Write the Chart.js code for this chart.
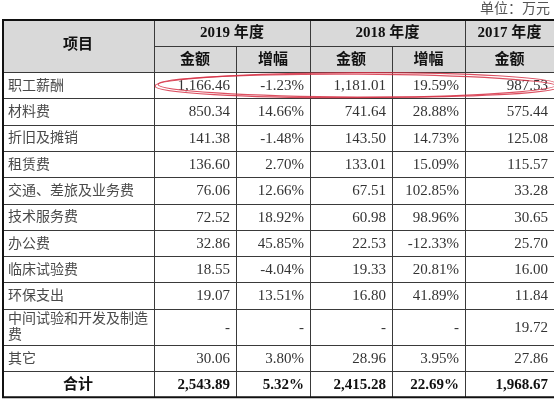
<!DOCTYPE html>
<html>
<head>
<meta charset="utf-8">
<script src="https://cdn.jsdelivr.net/npm/chart.js@4"></script>
<style>
  html, body { margin: 0; padding: 0; background: #fff; }
  #wrap { width: 554px; height: 400px; position: relative; }
</style>
</head>
<body>
<div id="wrap"><canvas id="costTable"></canvas></div>
<script>
// values (unit: 万元 / %)
const items = ['职工薪酬', '材料费', '折旧及摊销', '租赁费', '交通、差旅及业务费', '技术服务费',
  '办公费', '临床试验费', '环保支出', '中间试验和开发及制造费', '其它'];
const years = ['2019 年度', '2018 年度', '2017 年度'];
const amount2019 = [1166.46, 850.34, 141.38, 136.60, 76.06, 72.52, 32.86, 18.55, 19.07, null, 30.06];
const growth2019 = [-1.23, 14.66, -1.48, 2.70, 12.66, 18.92, 45.85, -4.04, 13.51, null, 3.80];
const amount2018 = [1181.01, 741.64, 143.50, 133.01, 67.51, 60.98, 22.53, 19.33, 16.80, null, 28.96];
const growth2018 = [19.59, 28.88, 14.73, 15.09, 102.85, 98.96, -12.33, 20.81, 41.89, null, 3.95];
const amount2017 = [987.53, 575.44, 125.08, 115.57, 33.28, 30.65, 25.70, 16.00, 11.84, 19.72, 27.86];
const totals = [2543.89, 5.32, 2415.28, 22.69, 1968.67];
const highlightRow = 0;

// layout (in the 554 x 400 value space of the scales)
const colEdges = [2, 154, 236, 310, 392, 465, 554];
const headTop = 19, headMid = 46, headBottom = 72;
const rowH = 26.3, lineH = 16;
const FONT = '"Liberation Serif", "Noto Sans CJK SC", serif';

function money(v) {
  if (v === null) return '-';
  const parts = v.toFixed(2).split('.');
  return parts[0].replace(/\B(?=(\d{3})+(?!\d))/g, ',') + '.' + parts[1];
}
function pct(v) {
  return v === null ? '-' : v.toFixed(2) + '%';
}

function wrap(ctx, text, maxW) {
  const lines = [];
  let cur = '';
  for (const ch of text) {
    if (ctx.measureText(cur + ch).width > maxW && cur) {
      lines.push(cur);
      cur = ch;
    } else {
      cur += ch;
    }
  }
  lines.push(cur);
  return lines;
}

const tablePlugin = {
  id: 'tablePlugin',
  afterDraw(chart) {
    const ctx = chart.ctx;
    const xs = chart.scales.x, ys = chart.scales.y;
    const X = v => xs.getPixelForValue(v);
    const Y = v => ys.getPixelForValue(v);

    // body rows: work out heights from wrapped labels
    ctx.font = '14px ' + FONT;
    const labelW = colEdges[1] - colEdges[0] - 12;
    const labelLines = items.map(t => wrap(ctx, t, labelW));
    const rowEdges = [headBottom];
    labelLines.forEach(l => {
      const h = l.length > 1 ? 18 + lineH * (l.length - 1) + 2 : rowH;
      rowEdges.push(rowEdges[rowEdges.length - 1] + h);
    });
    rowEdges.push(rowEdges[rowEdges.length - 1] + rowH);
    const tableBottom = rowEdges[rowEdges.length - 1];

    ctx.save();
    // header background
    ctx.fillStyle = '#d9d9d9';
    ctx.fillRect(X(colEdges[0]), Y(headTop), X(colEdges[6]) - X(colEdges[0]), Y(headBottom) - Y(headTop));

    // unit label
    ctx.fillStyle = '#555';
    ctx.font = '14px ' + FONT;
    ctx.textAlign = 'right';
    ctx.textBaseline = 'middle';
    ctx.fillText('单位：万元', X(550), Y(9));

    // header texts
    ctx.fillStyle = '#111';
    ctx.font = 'bold 15px ' + FONT;
    ctx.textAlign = 'center';
    const cx = (a, b) => (X(colEdges[a]) + X(colEdges[b])) / 2;
    ctx.fillText('项目', cx(0, 1), (Y(headTop) + Y(headBottom)) / 2);
    const rowA = (Y(headTop) + Y(headMid)) / 2 + 1;
    const rowB = (Y(headMid) + Y(headBottom)) / 2 + 1;
    ctx.fillText(years[0], cx(1, 3), rowA);
    ctx.fillText(years[1], cx(3, 5), rowA);
    ctx.fillText(years[2], cx(5, 6), rowA);
    ['金额', '增幅', '金额', '增幅', '金额'].forEach((t, i) => {
      ctx.fillText(t, cx(i + 1, i + 2), rowB);
    });

    // body
    const cols = [amount2019.map(money), growth2019.map(pct), amount2018.map(money),
      growth2018.map(pct), amount2017.map(money)];
    items.forEach((name, r) => {
      const top = Y(rowEdges[r]), bot = Y(rowEdges[r + 1]);
      const mid = (top + bot) / 2 + 1;
      ctx.font = '14px ' + FONT;
      ctx.fillStyle = '#4a4a4a';
      ctx.textAlign = 'left';
      const lines = labelLines[r];
      const first = mid - (lines.length - 1) * lineH / 2;
      lines.forEach((l, k) => ctx.fillText(l, X(colEdges[0]) + 6, first + k * lineH));
      ctx.font = '15px ' + FONT;
      ctx.fillStyle = '#333';
      ctx.textAlign = 'right';
      cols.forEach((c, i) => ctx.fillText(c[r], X(colEdges[i + 2]) - 6, mid));
    });

    // total row
    const tTop = Y(rowEdges[items.length]), tBot = Y(tableBottom);
    const tMid = (tTop + tBot) / 2 + 1;
    ctx.fillStyle = '#111';
    ctx.font = 'bold 15px ' + FONT;
    ctx.textAlign = 'center';
    ctx.fillText('合计', cx(0, 1), tMid);
    ctx.textAlign = 'right';
    totals.forEach((v, i) => {
      ctx.fillText(i % 2 ? pct(v) : money(v), X(colEdges[i + 2]) - 6, tMid);
    });

    // grid lines
    ctx.strokeStyle = '#3a3a3a';
    ctx.lineWidth = 1;
    const hline = (y, a, b) => {
      ctx.beginPath();
      ctx.moveTo(X(colEdges[a]), Math.round(Y(y)) + 0.5);
      ctx.lineTo(X(colEdges[b]), Math.round(Y(y)) + 0.5);
      ctx.stroke();
    };
    const vline = (i, y0, y1) => {
      ctx.beginPath();
      ctx.moveTo(Math.round(X(colEdges[i])) + 0.5, Y(y0));
      ctx.lineTo(Math.round(X(colEdges[i])) + 0.5, Y(y1));
      ctx.stroke();
    };
    hline(headMid, 1, 6);
    hline(headBottom, 0, 6);
    rowEdges.slice(1, -1).forEach(y => hline(y, 0, 6));
    vline(1, headTop, tableBottom);
    vline(2, headMid, tableBottom);
    vline(3, headTop, tableBottom);
    vline(4, headMid, tableBottom);
    vline(5, headTop, tableBottom);

    // outer frame
    ctx.strokeStyle = '#111';
    ctx.lineWidth = 2;
    ctx.beginPath();
    ctx.moveTo(X(colEdges[6]), Y(headTop) + 1);
    ctx.lineTo(X(colEdges[0]) + 1, Y(headTop) + 1);
    ctx.lineTo(X(colEdges[0]) + 1, Y(tableBottom));
    ctx.lineTo(X(colEdges[6]), Y(tableBottom));
    ctx.stroke();

    // red ellipse around the highlighted row
    const hTop = Y(rowEdges[highlightRow]), hBot = Y(rowEdges[highlightRow + 1]);
    const ecx = (X(colEdges[1]) + X(colEdges[6])) / 2 + 2;
    const ecy = (hTop + hBot) / 2;
    ctx.strokeStyle = 'rgba(214, 50, 70, 0.85)';
    ctx.lineWidth = 1.2;
    ctx.beginPath();
    ctx.ellipse(ecx, ecy, (X(colEdges[6]) - X(colEdges[1])) / 2 + 1, 12.5, -0.004, 0, Math.PI * 2);
    ctx.stroke();
    ctx.beginPath();
    ctx.ellipse(ecx + 2, ecy + 0.5, (X(colEdges[6]) - X(colEdges[1])) / 2, 11.5, 0.006, 0, Math.PI * 2);
    ctx.stroke();
    ctx.restore();
  }
};

new Chart(document.querySelector('#costTable'), {
  type: 'scatter',
  data: { datasets: [] },
  options: {
    responsive: true,
    maintainAspectRatio: false,
    animation: false,
    layout: { padding: 0 },
    scales: {
      x: { type: 'linear', min: 0, max: 554, display: false },
      y: { type: 'linear', min: 0, max: 400, reverse: true, display: false }
    },
    plugins: {
      legend: { display: false },
      tooltip: { enabled: false }
    }
  },
  plugins: [tablePlugin]
});
</script>
</body>
</html>
